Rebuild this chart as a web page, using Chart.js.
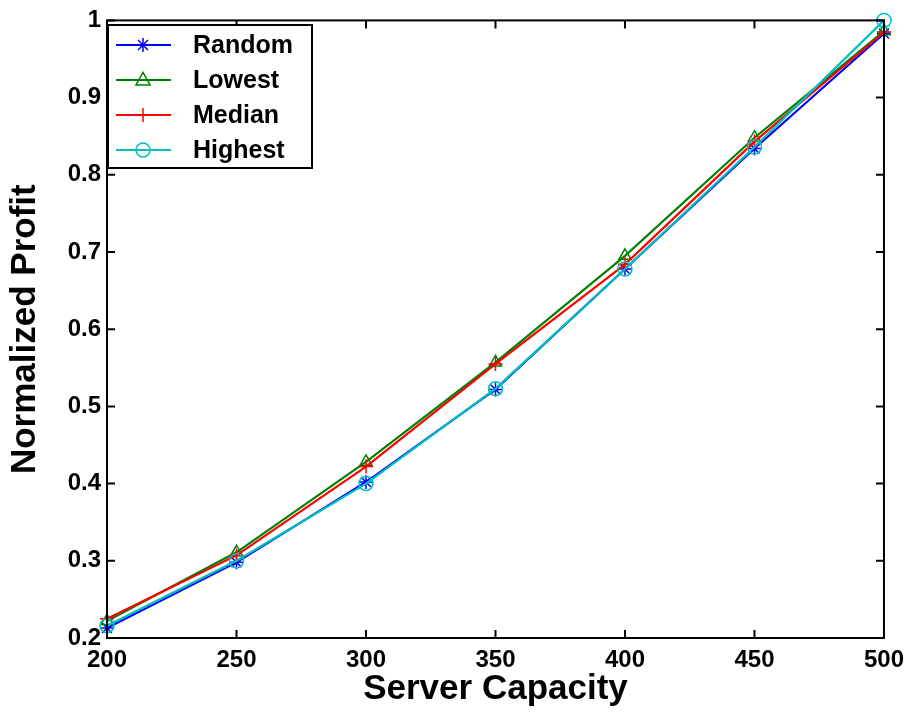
<!DOCTYPE html>
<html>
<head>
<meta charset="utf-8">
<script src="https://cdn.jsdelivr.net/npm/chart.js@4"></script>
<style>
  html, body { margin: 0; padding: 0; background: #fff; }
  #wrap { width: 912px; height: 712px; }
</style>
</head>
<body>
<div id="wrap"><canvas id="profitChart" width="912" height="712"></canvas></div>
<script>
// Données
const capacity = [200, 250, 300, 350, 400, 450, 500];
const randomProfit = [0.213, 0.298, 0.402, 0.522, 0.678, 0.834, 0.983];
const lowestProfit = [0.222, 0.311, 0.428, 0.557, 0.695, 0.848, 0.986];
const medianProfit = [0.225, 0.307, 0.422, 0.555, 0.684, 0.843, 0.985];
const highestProfit = [0.216, 0.300, 0.400, 0.523, 0.678, 0.836, 1.0];
const xTicks = [200, 250, 300, 350, 400, 450, 500];
const yTicks = [0.2, 0.3, 0.4, 0.5, 0.6, 0.7, 0.8, 0.9, 1];

const series = [
  { label: 'Random', data: randomProfit, color: '#0000ff', style: 'star', order: 3 },
  { label: 'Lowest', data: lowestProfit, color: '#008000', style: 'triangle', order: 2 },
  { label: 'Median', data: medianProfit, color: '#ff0000', style: 'cross', order: 1 },
  { label: 'Highest', data: highestProfit, color: '#00bfbf', style: 'circle', order: 0 }
];

const FONT = '"Liberation Sans", Arial, sans-serif';

function drawMarker(ctx, style, x, y, r) {
  ctx.beginPath();
  if (style === 'circle') {
    ctx.arc(x, y, r, 0, Math.PI * 2);
  } else if (style === 'triangle') {
    ctx.moveTo(x, y - r * 1.1);
    ctx.lineTo(x + r, y + r * 0.7);
    ctx.lineTo(x - r, y + r * 0.7);
    ctx.closePath();
  } else if (style === 'cross') {
    ctx.moveTo(x - r, y); ctx.lineTo(x + r, y);
    ctx.moveTo(x, y - r); ctx.lineTo(x, y + r);
  } else if (style === 'star') {
    ctx.moveTo(x - r, y); ctx.lineTo(x + r, y);
    ctx.moveTo(x, y - r); ctx.lineTo(x, y + r);
    const d = r * 0.707;
    ctx.moveTo(x - d, y - d); ctx.lineTo(x + d, y + d);
    ctx.moveTo(x - d, y + d); ctx.lineTo(x + d, y - d);
  }
  ctx.stroke();
}

// Cadre, graduations intérieures et légende
const framePlugin = {
  id: 'frame',
  afterDatasetsDraw(chart) {
    const { ctx, chartArea: a, scales: { x, y } } = chart;
    ctx.save();
    ctx.strokeStyle = '#000';
    ctx.lineWidth = 2;
    ctx.strokeRect(a.left, a.top, a.right - a.left, a.bottom - a.top);
    const tl = 8;
    ctx.beginPath();
    xTicks.forEach(v => {
      const px = x.getPixelForValue(v);
      ctx.moveTo(px, a.bottom); ctx.lineTo(px, a.bottom - tl);
      ctx.moveTo(px, a.top); ctx.lineTo(px, a.top + tl);
    });
    yTicks.forEach(v => {
      const py = y.getPixelForValue(v);
      ctx.moveTo(a.left, py); ctx.lineTo(a.left + tl, py);
      ctx.moveTo(a.right, py); ctx.lineTo(a.right - tl, py);
    });
    ctx.stroke();

    // légende
    const lx = a.left + 1, ly = 25, lw = 204, lh = 143;
    ctx.fillStyle = '#fff';
    ctx.fillRect(lx, ly, lw, lh);
    ctx.strokeRect(lx, ly, lw, lh);
    ctx.font = 'bold 25px ' + FONT;
    ctx.textBaseline = 'middle';
    series.forEach((s, i) => {
      const cy = 45 + i * 35;
      ctx.strokeStyle = s.color;
      ctx.lineWidth = 2;
      ctx.beginPath();
      ctx.moveTo(116, cy); ctx.lineTo(171, cy);
      ctx.stroke();
      ctx.lineWidth = 1.5;
      drawMarker(ctx, s.style, 143, cy, 7);
      ctx.fillStyle = '#000';
      ctx.fillText(s.label, 193, cy + 1);
    });
    ctx.restore();
  }
};

const ctx = document.getElementById('profitChart').getContext('2d');
new Chart(ctx, {
  type: 'line',
  data: {
    datasets: series.map(s => ({
      label: s.label,
      data: s.data.map((v, i) => ({ x: capacity[i], y: v })),
      borderColor: s.color,
      borderWidth: 2.2,
      backgroundColor: 'transparent',
      pointStyle: s.style,
      pointRadius: 7,
      pointBorderWidth: 1.5,
      pointBorderColor: s.color,
      pointBackgroundColor: 'transparent',
      tension: 0,
      fill: false,
      clip: false,
      order: s.order
    }))
  },
  options: {
    responsive: false,
    animation: false,
    layout: { padding: { left: 0, top: 17, right: 27, bottom: 0 } },
    plugins: { legend: { display: false }, tooltip: { enabled: false } },
    scales: {
      x: {
        type: 'linear',
        min: 200,
        max: 500,
        afterBuildTicks: s => { s.ticks = xTicks.map(v => ({ value: v })); },
        afterFit: s => { s.height = 74; },
        grid: { display: false, drawTicks: false },
        border: { display: false },
        ticks: {
          padding: 8,
          color: '#000',
          font: { family: FONT, size: 24, weight: 'bold' },
          maxRotation: 0
        },
        title: {
          display: true,
          text: 'Server Capacity',
          color: '#000',
          font: { family: FONT, size: 35, weight: 'bold' },
          padding: { top: 0, bottom: 2 }
        }
      },
      y: {
        min: 0.2,
        max: 1,
        afterBuildTicks: s => { s.ticks = yTicks.map(v => ({ value: v })); },
        afterFit: s => { s.width = 107; },
        grid: { display: false, drawTicks: false },
        border: { display: false },
        ticks: {
          padding: 6,
          color: '#000',
          font: { family: FONT, size: 24, weight: 'bold' },
          callback: v => (v === 1 ? '1' : v.toFixed(1))
        },
        title: {
          display: true,
          text: 'Normalized Profit',
          color: '#000',
          font: { family: FONT, size: 35, weight: 'bold' },
          padding: { top: 4, bottom: 0 }
        }
      }
    }
  },
  plugins: [framePlugin]
});
</script>
</body>
</html>
